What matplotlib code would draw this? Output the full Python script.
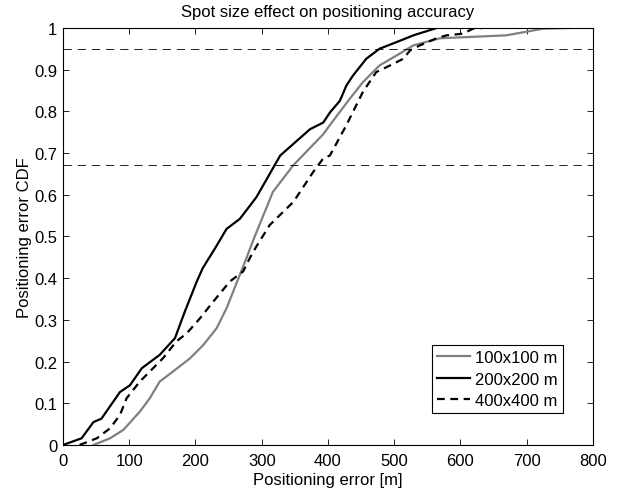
import matplotlib
matplotlib.use("Agg")
import matplotlib.pyplot as plt

plt.rcParams['font.family'] = ['Liberation Sans', 'DejaVu Sans']

err_100 = [46, 71, 91, 116, 131, 146, 166, 192, 212, 232, 247, 257, 277, 287,
           317, 348, 393, 403, 433, 453, 478, 504, 529, 569, 669, 725, 773]
cdf_100 = [0, 0.016, 0.036, 0.08, 0.112, 0.152, 0.176, 0.208, 0.24, 0.28, 0.328,
           0.368, 0.448, 0.49, 0.607, 0.671, 0.745, 0.767, 0.83, 0.87, 0.91,
           0.934, 0.958, 0.975, 0.982, 0.998, 1.0]

err_200 = [0, 28, 46, 58, 86, 101, 119, 146, 169, 184, 202, 211, 229, 247, 267,
           292, 328, 373, 393, 403, 418, 428, 438, 458, 478, 504, 529, 565]
cdf_200 = [0, 0.016, 0.055, 0.063, 0.127, 0.143, 0.184, 0.216, 0.256, 0.32,
           0.392, 0.424, 0.47, 0.518, 0.542, 0.594, 0.694, 0.757, 0.773, 0.797,
           0.825, 0.862, 0.886, 0.926, 0.95, 0.966, 0.982, 1.0]

err_400 = [25, 51, 71, 86, 96, 116, 131, 151, 171, 187, 207, 227, 252, 272, 282,
           292, 312, 348, 378, 393, 403, 428, 453, 473, 494, 514, 524, 539, 564,
           579, 604, 619, 635]
cdf_400 = [0, 0.016, 0.04, 0.072, 0.112, 0.152, 0.176, 0.208, 0.248, 0.268,
           0.304, 0.344, 0.392, 0.416, 0.448, 0.476, 0.527, 0.583, 0.655, 0.687,
           0.694, 0.767, 0.847, 0.894, 0.91, 0.926, 0.946, 0.958, 0.975, 0.982,
           0.986, 0.998, 1.0]

ref_levels = [0.95, 0.67]
x_ticks = list(range(0, 801, 100))
y_ticks = [i / 10 for i in range(11)]
y_tick_labels = ['0', '0.1', '0.2', '0.3', '0.4', '0.5', '0.6', '0.7', '0.8', '0.9', '1']

fs = 12

fig = plt.figure(figsize=(6.24, 4.89), dpi=100)
ax = fig.add_axes([0.101, 0.088, 0.849, 0.853])

ax.plot(err_100, cdf_100, color='#808080', lw=1.6, label='100x100 m')
ax.plot(err_200, cdf_200, color='black', lw=1.6, label='200x200 m')
ax.plot(err_400, cdf_400, color='black', lw=1.6, ls=(0, (3.5, 2.5)), label='400x400 m')

for lvl in ref_levels:
    ax.axhline(lvl, color='black', lw=0.6, ls=(0, (10, 7)))

ax.set_xlim(0, 800)
ax.set_ylim(0, 1)
ax.set_xticks(x_ticks)
ax.set_yticks(y_ticks)
ax.set_yticklabels(y_tick_labels)
ax.tick_params(direction='in', top=True, right=True, length=4, width=0.6, labelsize=fs)
ax.tick_params(axis='x', pad=6)
ax.tick_params(axis='y', pad=4)
for sp in ax.spines.values():
    sp.set_linewidth(0.8)

ax.set_xlabel('Positioning error [m]', fontsize=fs, labelpad=3)
ax.set_ylabel('Positioning error CDF', fontsize=fs, labelpad=2)
ax.set_title('Spot size effect on positioning accuracy', fontsize=fs, pad=8.5)

leg = ax.legend(loc='lower right', bbox_to_anchor=(0.943, 0.077), borderaxespad=0,
                fontsize=fs, fancybox=False, framealpha=1, edgecolor='black',
                handlelength=2.0, handletextpad=0.3, borderpad=0.3, labelspacing=0.38)
leg.get_frame().set_linewidth(0.8)

plt.savefig('out.png')
